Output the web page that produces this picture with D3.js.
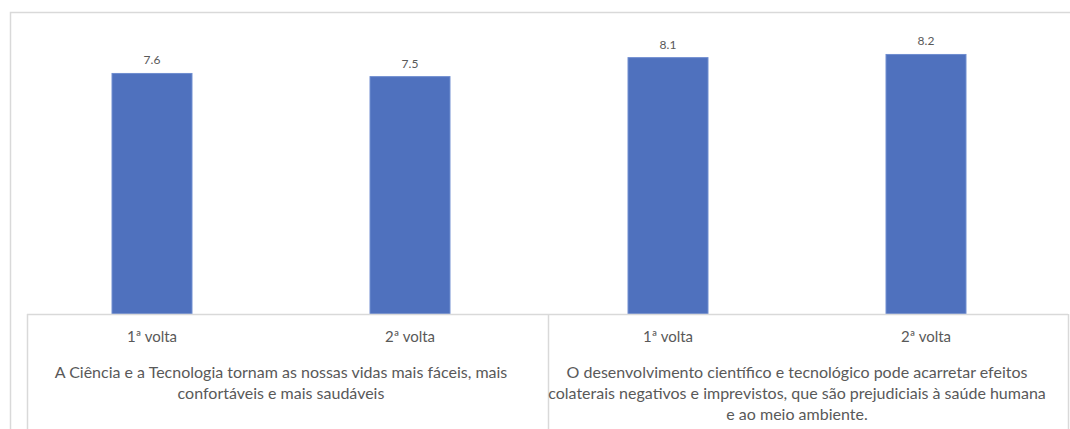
<!DOCTYPE html>
<html>
  <head>
    <meta charset="utf-8">
    <title>1ª e 2ª volta</title>
    <script src="https://d3js.org/d3.v7.min.js"></script>
    <style type="text/css">
      html, body {
        margin: 0;
        padding: 0;
        background: #ffffff;
      }

      svg {
        display: block;
        font-family: 'Lato', 'Open Sans', sans-serif;
      }

      .frame, .axis-line {
        fill: none;
        stroke: #d9d9d9;
        stroke-width: 1.5;
      }

      .bar {
        fill: #4f71be;
        stroke: #6f8dd0;
        stroke-width: 1;
      }

      .value {
        fill: #595959;
        font-size: 12px;
      }

      .cat {
        fill: #595959;
        font-size: 15px;
      }

      .group {
        fill: #595959;
        font-size: 16px;
      }
    </style>
  </head>

  <body>
    <svg width="1070" height="429"></svg>
    <script type="text/javascript">
      // rounds (inner level of the category axis)
      var rounds = ['1ª volta', '2ª volta'];

      // statements (outer level), already split into lines like the original
      var groups = [
        ['A Ciência e a Tecnologia tornam as nossas vidas mais fáceis, mais',
         'confortáveis e mais saudáveis'],
        ['O desenvolvimento científico e tecnológico pode acarretar efeitos',
         'colaterais negativos e imprevistos, que são prejudiciais à saúde humana',
         'e ao meio ambiente.']
      ];

      // mean scores, one per statement and round
      var values = [7.6, 7.5, 8.1, 8.2];

      var data = [];
      for (var g = 0; g < groups.length; g++) {
        for (var r = 0; r < rounds.length; r++) {
          data.push({key: g + '-' + r, group: g, round: rounds[r], value: values[g * rounds.length + r]});
        }
      }

      var svg = d3.select('svg');

      var axisY = 314;
      var axisLeft = 27;
      var axisRight = 1068;

      var x = d3.scaleBand()
        .domain(data.map(function(d){return d.key;}))
        .range([23, 1055])
        .paddingInner(0.69)
        .paddingOuter(0.345);

      var y = d3.scaleLinear()
        .domain([0, 9])
        .range([axisY, axisY - 31.65 * 9]);

      // outer chart frame (cut off at right and bottom)
      svg.append('path')
        .attr('class', 'frame')
        .attr('d', 'M10.5,440V12.5H1080');

      // bars
      svg.selectAll('rect.bar')
        .data(data)
        .enter()
        .append('rect')
          .attr('class', 'bar')
          .attr('x', function(d){return x(d.key);})
          .attr('y', function(d){return y(d.value);})
          .attr('width', x.bandwidth())
          .attr('height', function(d){return y(0) - y(d.value);});

      svg.selectAll('text.value')
        .data(data)
        .enter()
        .append('text')
          .attr('class', 'value')
          .attr('text-anchor', 'middle')
          .attr('x', function(d){return x(d.key) + x.bandwidth() / 2;})
          .attr('y', function(d){return y(d.value) - 9;})
          .text(function(d){return d.value.toFixed(1);});

      // multi-level category axis box
      var groupWidth = (axisRight - axisLeft) / groups.length;
      svg.append('line')
        .attr('class', 'axis-line')
        .attr('x1', axisLeft).attr('x2', axisRight)
        .attr('y1', axisY + 0.5).attr('y2', axisY + 0.5);

      d3.range(groups.length + 1).forEach(function(i){
        var gx = Math.round(axisLeft + i * groupWidth) + 0.5;
        svg.append('line')
          .attr('class', 'axis-line')
          .attr('x1', gx).attr('x2', gx)
          .attr('y1', axisY).attr('y2', 440);
      });

      svg.selectAll('text.cat')
        .data(data)
        .enter()
        .append('text')
          .attr('class', 'cat')
          .attr('text-anchor', 'middle')
          .attr('x', function(d){return x(d.key) + x.bandwidth() / 2;})
          .attr('y', 342)
          .text(function(d){return d.round;});

      groups.forEach(function(lines, g){
        var first = x(g + '-0');
        var last = x(g + '-' + (rounds.length - 1)) + x.bandwidth();
        var cx = (first + last) / 2;
        var t = svg.append('text')
          .attr('class', 'group')
          .attr('text-anchor', 'middle');
        lines.forEach(function(line, i){
          t.append('tspan')
            .attr('x', cx)
            .attr('y', 378 + i * 21)
            .text(line);
        });
      });
    </script>
  </body>
</html>
